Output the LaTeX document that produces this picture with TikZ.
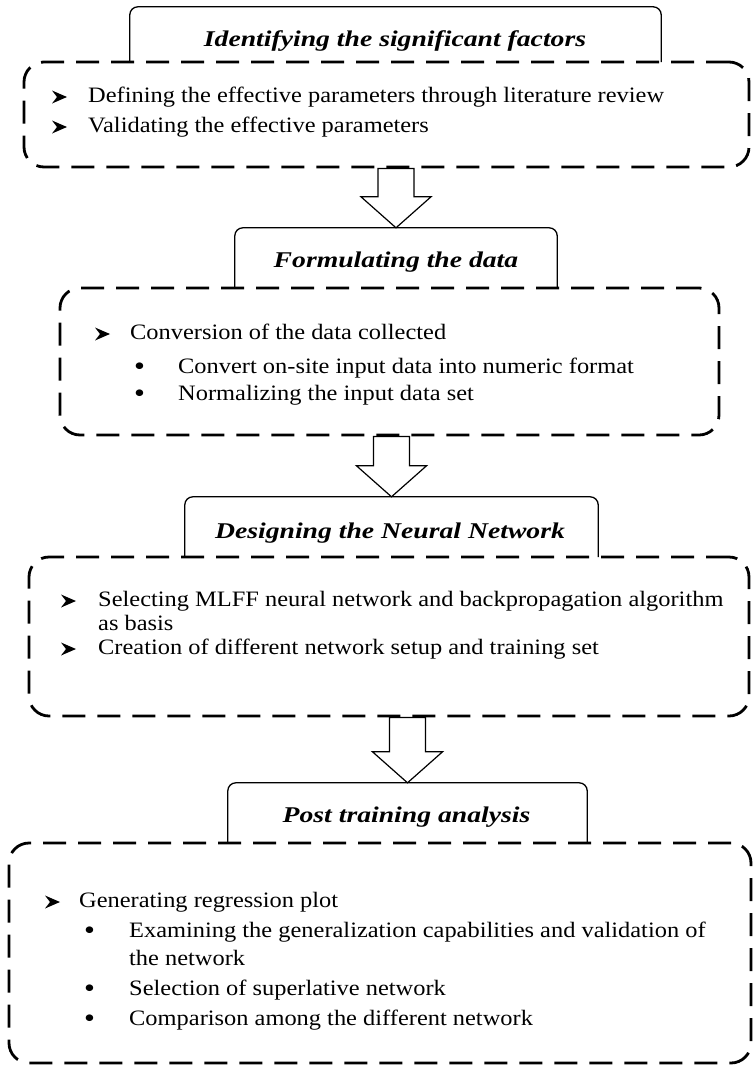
\documentclass[tikz,border=0pt]{standalone}
\usepackage{fontspec}
\setmainfont{Liberation Serif}
\newfontfamily\bodyfont[FakeStretch=1.11]{Liberation Serif}
\newfontfamily\titlefont[FakeStretch=1.23]{Liberation Serif}
\usetikzlibrary{calc}
\newcommand{\bulmark}{\fontsize{28}{28}\selectfont\raisebox{-2.5pt}{•}}
\begin{document}
\begin{tikzpicture}[x=1pt,y=-1pt,
  dbox/.style={draw, line width=2.8pt, dash pattern=on 23pt off 12pt, rounded corners=20pt, inner sep=0pt},
  tbox/.style={draw=none, inner sep=0pt},
  tframe/.style={line width=1.3pt, rounded corners=8pt},
  ttext/.style={inner sep=0pt, font=\titlefont\fontsize{22.5}{26}\selectfont\bfseries\itshape},
  body/.style={anchor=west, inner sep=0pt, text height=15.5pt, text depth=5.5pt, font=\bodyfont\fontsize{22}{24}\selectfont},
  bul/.style={anchor=west, inner sep=0pt, text height=15.5pt, text depth=5.5pt, font=\bodyfont\fontsize{22}{24}\selectfont},
  blockarrow/.style={line width=1.2pt, fill=white, line join=miter},
  mk/.pic={\fill (0,-6.5) -- (15,0) -- (0,6.5) -- (5,0) -- cycle;}
]
\useasboundingbox (0,0) rectangle (753,1066);

% dashed containers
\node[dbox, minimum width=725pt, minimum height=105pt] (b1) at (386.5,114.5) {};
\node[dbox, minimum width=659pt, minimum height=147pt] (b2) at (389.5,361.5) {};
\node[dbox, minimum width=720pt, minimum height=159pt] (b3) at (389,636.5) {};
\node[dbox, minimum width=742pt, minimum height=220pt] (b4) at (380,953) {};

% title boxes
\node[tbox, minimum width=531pt, minimum height=55pt] (t1) at (395.5,34.5) {};
\node[tbox, minimum width=322pt, minimum height=60pt] (t2) at (396,258) {};
\node[tbox, minimum width=413pt, minimum height=60pt] (t3) at (391.5,527) {};
\node[tbox, minimum width=359pt, minimum height=60pt] (t4) at (407.5,813) {};
\foreach \t in {t1,t2,t3,t4}{
  \draw[tframe] (\t.south west) -- (\t.north west) -- (\t.north east) -- (\t.south east);
}
\node[ttext] (t1x) at (395,41) {Identifying the significant factors};
\node[ttext] (t2x) at (396,262) {Formulating the data};
\node[ttext] (t3x) at (390,533) {Designing the Neural Network};
\node[ttext] (t4x) at (406.5,817) {Post training analysis};

% block arrows
\foreach \b/\t/\n in {b1/t2/a1,b2/t3/a2,b3/t4/a3}{
  \coordinate (\n tip) at (\t.north);
  \coordinate (\n top) at (\b.south -| \t.north);
  \draw[blockarrow] ($(\n top)+(-18,0)$) -- ($(\n tip)+(-18,-31)$) -- ($(\n tip)+(-35,-31)$)
    -- (\n tip) -- ($(\n tip)+(35,-31)$) -- ($(\n tip)+(18,-31)$) -- ($(\n top)+(18,0)$) -- cycle;
}

% box 1 content
\pic at (52,97) {mk};
\node[body] (i11) at (88,97) {Defining the effective parameters through literature review};
\pic at (52,127) {mk};
\node[body] (i12) at (88,127) {Validating the effective parameters};

% box 2 content
\pic at (95,334) {mk};
\node[body] (i21) at (130,334) {Conversion of the data collected};
\node[bul] (p21) at (134,368) {\bulmark};
\node[body] (i22) at (178,368) {Convert on-site input data into numeric format};
\node[bul] (p22) at (134,395) {\bulmark};
\node[body] (i23) at (178,395) {Normalizing the input data set};

% box 3 content
\pic at (61,601) {mk};
\node[body] (i31) at (98,601) {Selecting MLFF neural network and backpropagation algorithm};
\node[body] (i31b) at (98,625) {as basis};
\pic at (61,649) {mk};
\node[body] (i32) at (98,649) {Creation of different network setup and training set};

% box 4 content
\pic at (45,902) {mk};
\node[body] (i41) at (79,902) {Generating regression plot};
\node[bul] (p41) at (84,932) {\bulmark};
\node[body] (i42) at (129,932) {Examining the generalization capabilities and validation of};
\node[body] (i42b) at (129,960) {the network};
\node[bul] (p42) at (84,990) {\bulmark};
\node[body] (i43) at (129,990) {Selection of superlative network};
\node[bul] (p43) at (84,1020) {\bulmark};
\node[body] (i44) at (129,1020) {Comparison among the different network};
\end{tikzpicture}
\end{document}
